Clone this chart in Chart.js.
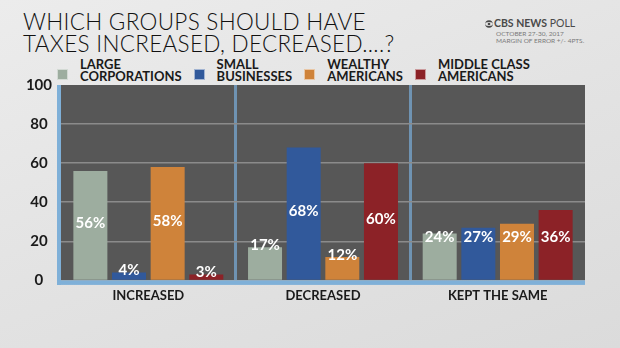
<!DOCTYPE html>
<html>
<head>
<meta charset="utf-8">
<script src="https://cdn.jsdelivr.net/npm/chart.js@4.4.0/dist/chart.umd.min.js"></script>
<style>
  html, body { margin: 0; padding: 0; }
  body {
    width: 620px; height: 348px; position: relative; overflow: hidden;
    background: linear-gradient(160deg, #ececec 0%, #e3e3e3 50%, #dbdbdb 100%);
    font-family: Lato, "Open Sans", sans-serif;
  }
  #title {
    position: absolute; left: 23px; top: 11px; margin: 0;
    font-size: 22.5px; line-height: 22px; font-weight: 300;
    letter-spacing: 0.3px; color: #111;
  }
  #poll { position: absolute; left: 485px; top: 17px; font-size: 10.5px; color: #4a4a4a; white-space: nowrap; }
  #poll svg { vertical-align: -1px; margin-right: 1px; }
  #poll .sub { margin-left: 11px; margin-top: 1px; font-size: 6.5px; line-height: 7px; color: #7a7a7a; }
  #legend { position: absolute; left: 57px; top: 58px; display: flex; }
  .item { display: flex; align-items: flex-end; margin-right: 12px; }
  .box { width: 11px; height: 11px; margin: 0 12px 2px 0; box-sizing: border-box; border: 1px solid rgba(255,255,255,0.55); }
  .txt { font-size: 13px; line-height: 12px; font-weight: 700; color: #1a1a1a; }
  #chart { position: absolute; left: 0; top: 0; }
</style>
</head>
<body>
<h1 id="title">WHICH GROUPS SHOULD HAVE<br>TAXES INCREASED, DECREASED....?</h1>
<div id="poll">
  <svg width="8" height="8" viewBox="0 0 8 8"><circle cx="4" cy="4" r="3.8" fill="#4a4a4a"/><ellipse cx="4" cy="4" rx="3.8" ry="1.9" fill="#e6e6e6"/><circle cx="4" cy="4" r="1.3" fill="#4a4a4a"/></svg><b>CBS NEWS</b> POLL
  <div class="sub">OCTOBER 27-30, 2017<br>MARGIN OF ERROR +/- 4PTS.</div>
</div>
<div id="legend"></div>
<canvas id="chart" width="620" height="348"></canvas>
<script>
const categories = ['INCREASED', 'DECREASED', 'KEPT THE SAME'];
const groupNames = [
  ['LARGE', 'CORPORATIONS'],
  ['SMALL', 'BUSINESSES'],
  ['WEALTHY', 'AMERICANS'],
  ['MIDDLE CLASS', 'AMERICANS'],
];
const largeCorporations = [56, 17, 24];
const smallBusinesses = [4, 68, 27];
const wealthyAmericans = [58, 12, 29];
const middleClassAmericans = [3, 60, 36];
const yTicks = [0, 20, 40, 60, 80, 100];
const colors = ['#9dad9f', '#31599b', '#cf833a', '#8c2227'];

const series = [largeCorporations, smallBusinesses, wealthyAmericans, middleClassAmericans];

// legend in html, since the labels are two lines each
const legend = document.getElementById('legend');
groupNames.forEach((name, i) => {
  const item = document.createElement('div');
  item.className = 'item';
  item.innerHTML = '<div class="box" style="background:' + colors[i] + '"></div><div class="txt">' + name.join('<br>') + '</div>';
  legend.appendChild(item);
});

// plot background, blue frame and the white % labels
const decor = {
  id: 'decor',
  beforeDraw(chart) {
    const { ctx, chartArea: a } = chart;
    ctx.save();
    ctx.fillStyle = '#575757';
    ctx.fillRect(a.left, a.top, a.right - a.left, a.bottom - a.top);
    ctx.restore();
  },
  afterDatasetsDraw(chart) {
    const { ctx, chartArea: a, scales: { y } } = chart;
    ctx.save();
    ctx.fillStyle = '#7fb0d8';
    ctx.fillRect(a.left - 4, a.top, 4, a.bottom - a.top + 4.5);
    ctx.fillRect(a.left - 4, a.bottom, a.right - a.left + 4, 4.5);
    ctx.font = 'bold 15px Lato';
    ctx.fillStyle = '#ffffff';
    ctx.textAlign = 'center';
    ctx.textBaseline = 'middle';
    chart.data.datasets.forEach((ds, i) => {
      chart.getDatasetMeta(i).data.forEach((bar, j) => {
        const v = ds.data[j];
        // middle of tall bars, near the top of short ones
        const pos = Math.max(v * 0.52, Math.min(v + 1, 22));
        ctx.fillText(v + '%', bar.x, y.getPixelForValue(pos));
      });
    });
    ctx.restore();
  }
};

const tickFont = { family: 'Lato', weight: 'bold', size: 15 };

new Chart(document.getElementById('chart'), {
  type: 'bar',
  data: {
    labels: categories,
    datasets: series.map((d, i) => ({
      label: groupNames[i].join(' '),
      data: d,
      backgroundColor: colors[i],
      categoryPercentage: 0.885,
      barPercentage: 0.88,
    }))
  },
  plugins: [decor],
  options: {
    responsive: false,
    animation: false,
    layout: { padding: { top: 85, right: 35, bottom: 36, left: 0 } },
    plugins: { legend: { display: false }, tooltip: { enabled: false } },
    scales: {
      x: {
        grid: {
          offset: true,
          drawTicks: false,
          lineWidth: 3,
          color: ctx => (ctx.index === 1 || ctx.index === 2) ? '#6f93b2' : 'transparent'
        },
        border: { display: false },
        ticks: { color: '#1a1a1a', font: { family: 'Lato', weight: 'bold', size: 13 }, padding: 8 }
      },
      y: {
        min: 0,
        max: 100,
        afterFit: s => { s.width = 61; },
        grid: {
          drawTicks: false,
          lineWidth: 1.5,
          color: ctx => (ctx.tick && (ctx.tick.value === 0 || ctx.tick.value === 100)) ? 'transparent' : '#8b8b8b'
        },
        border: { display: false },
        ticks: {
          stepSize: 10,
          padding: 9,
          crossAlign: 'center',
          color: '#1a1a1a',
          font: tickFont,
          callback: v => yTicks.includes(v) ? v : ''
        }
      }
    }
  }
});
</script>
</body>
</html>
